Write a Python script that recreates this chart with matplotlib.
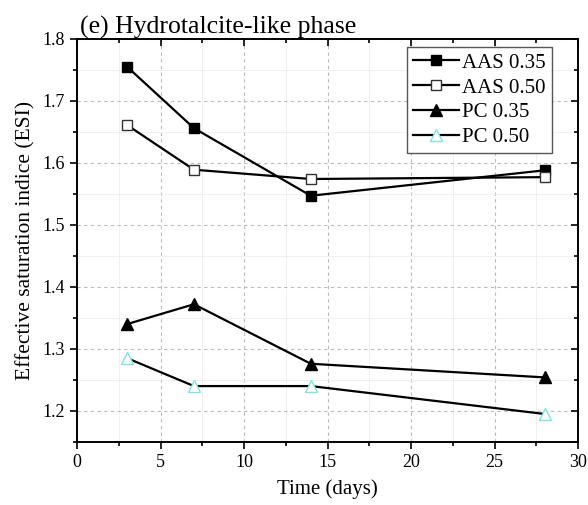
import numpy as np
import matplotlib.pyplot as plt
from matplotlib.ticker import MultipleLocator

plt.rcParams['font.family'] = ['Liberation Serif', 'DejaVu Serif']

days = [3, 7, 14, 28]
aas_035 = [1.755, 1.656, 1.547, 1.588]
aas_050 = [1.661, 1.589, 1.574, 1.577]
pc_035 = [1.340, 1.372, 1.276, 1.254]
pc_050 = [1.285, 1.240, 1.240, 1.195]

fig = plt.figure(figsize=(5.88, 5.05), dpi=100)
ax = fig.add_axes([0.131, 0.125, 0.852, 0.798])

ax.plot(days, aas_035, color='black', lw=1.6, marker='s', ms=7.5,
        mfc='black', mec='black', label='AAS 0.35')
ax.plot(days, aas_050, color='black', lw=1.6, marker='s', ms=7.5,
        mfc='white', mec='#333333', mew=1.0, label='AAS 0.50')
ax.plot(days, pc_035, color='black', lw=1.6, marker='^', ms=8.5,
        mfc='black', mec='black', label='PC 0.35')
ax.plot(days, pc_050, color='black', lw=1.6, marker='^', ms=9,
        mfc='white', mec='#7fe3e3', mew=1.0, label='PC 0.50')

ax.set_xlim(0, 30)
ax.set_ylim(1.15, 1.8)
ax.xaxis.set_major_locator(MultipleLocator(5))
ax.xaxis.set_minor_locator(MultipleLocator(2.5))
ax.yaxis.set_minor_locator(MultipleLocator(0.05))
ax.set_yticks([1.2, 1.3, 1.4, 1.5, 1.6, 1.7, 1.8])
ax.set_yticklabels(['1.2', '1.3', '1.4', '1.5', '1.6', '1.7', '1.8'])

ax.grid(True, which='major', color='#bbbbbb', ls=(0, (3, 3)), lw=0.8)
ax.grid(True, which='minor', color='#eeeeee', ls='-', lw=0.6)
ax.set_axisbelow(True)

ax.tick_params(which='both', direction='out', labelsize=13, width=1.2)
ax.tick_params(which='major', length=5)
ax.tick_params(which='minor', length=3)
for s in ax.spines.values():
    s.set_linewidth(1.4)

# mirror ticks inward on top/right
ax.tick_params(which='both', top=True, right=True)
for t in ax.xaxis.get_major_ticks() + ax.xaxis.get_minor_ticks():
    t.tick2line.set_marker(3)
for t in ax.yaxis.get_major_ticks() + ax.yaxis.get_minor_ticks():
    t.tick2line.set_marker(0)

ax.set_xlabel('Time (days)', fontsize=15, labelpad=6)
ax.set_ylabel('Effective saturation indice (ESI)', fontsize=15.5, labelpad=5)
ax.set_title('(e) Hydrotalcite-like phase', fontsize=18.5, loc='left',
             pad=2, x=0.006)

leg = ax.legend(loc='upper right', bbox_to_anchor=(0.948, 0.98), fontsize=15,
                handlelength=2.2, handletextpad=0.15, borderpad=0.3,
                labelspacing=0.25, borderaxespad=0, fancybox=False,
                framealpha=1)
leg.get_frame().set_edgecolor('#555555')
leg.get_frame().set_linewidth(1.0)

fig.savefig('out.png', dpi=100)
